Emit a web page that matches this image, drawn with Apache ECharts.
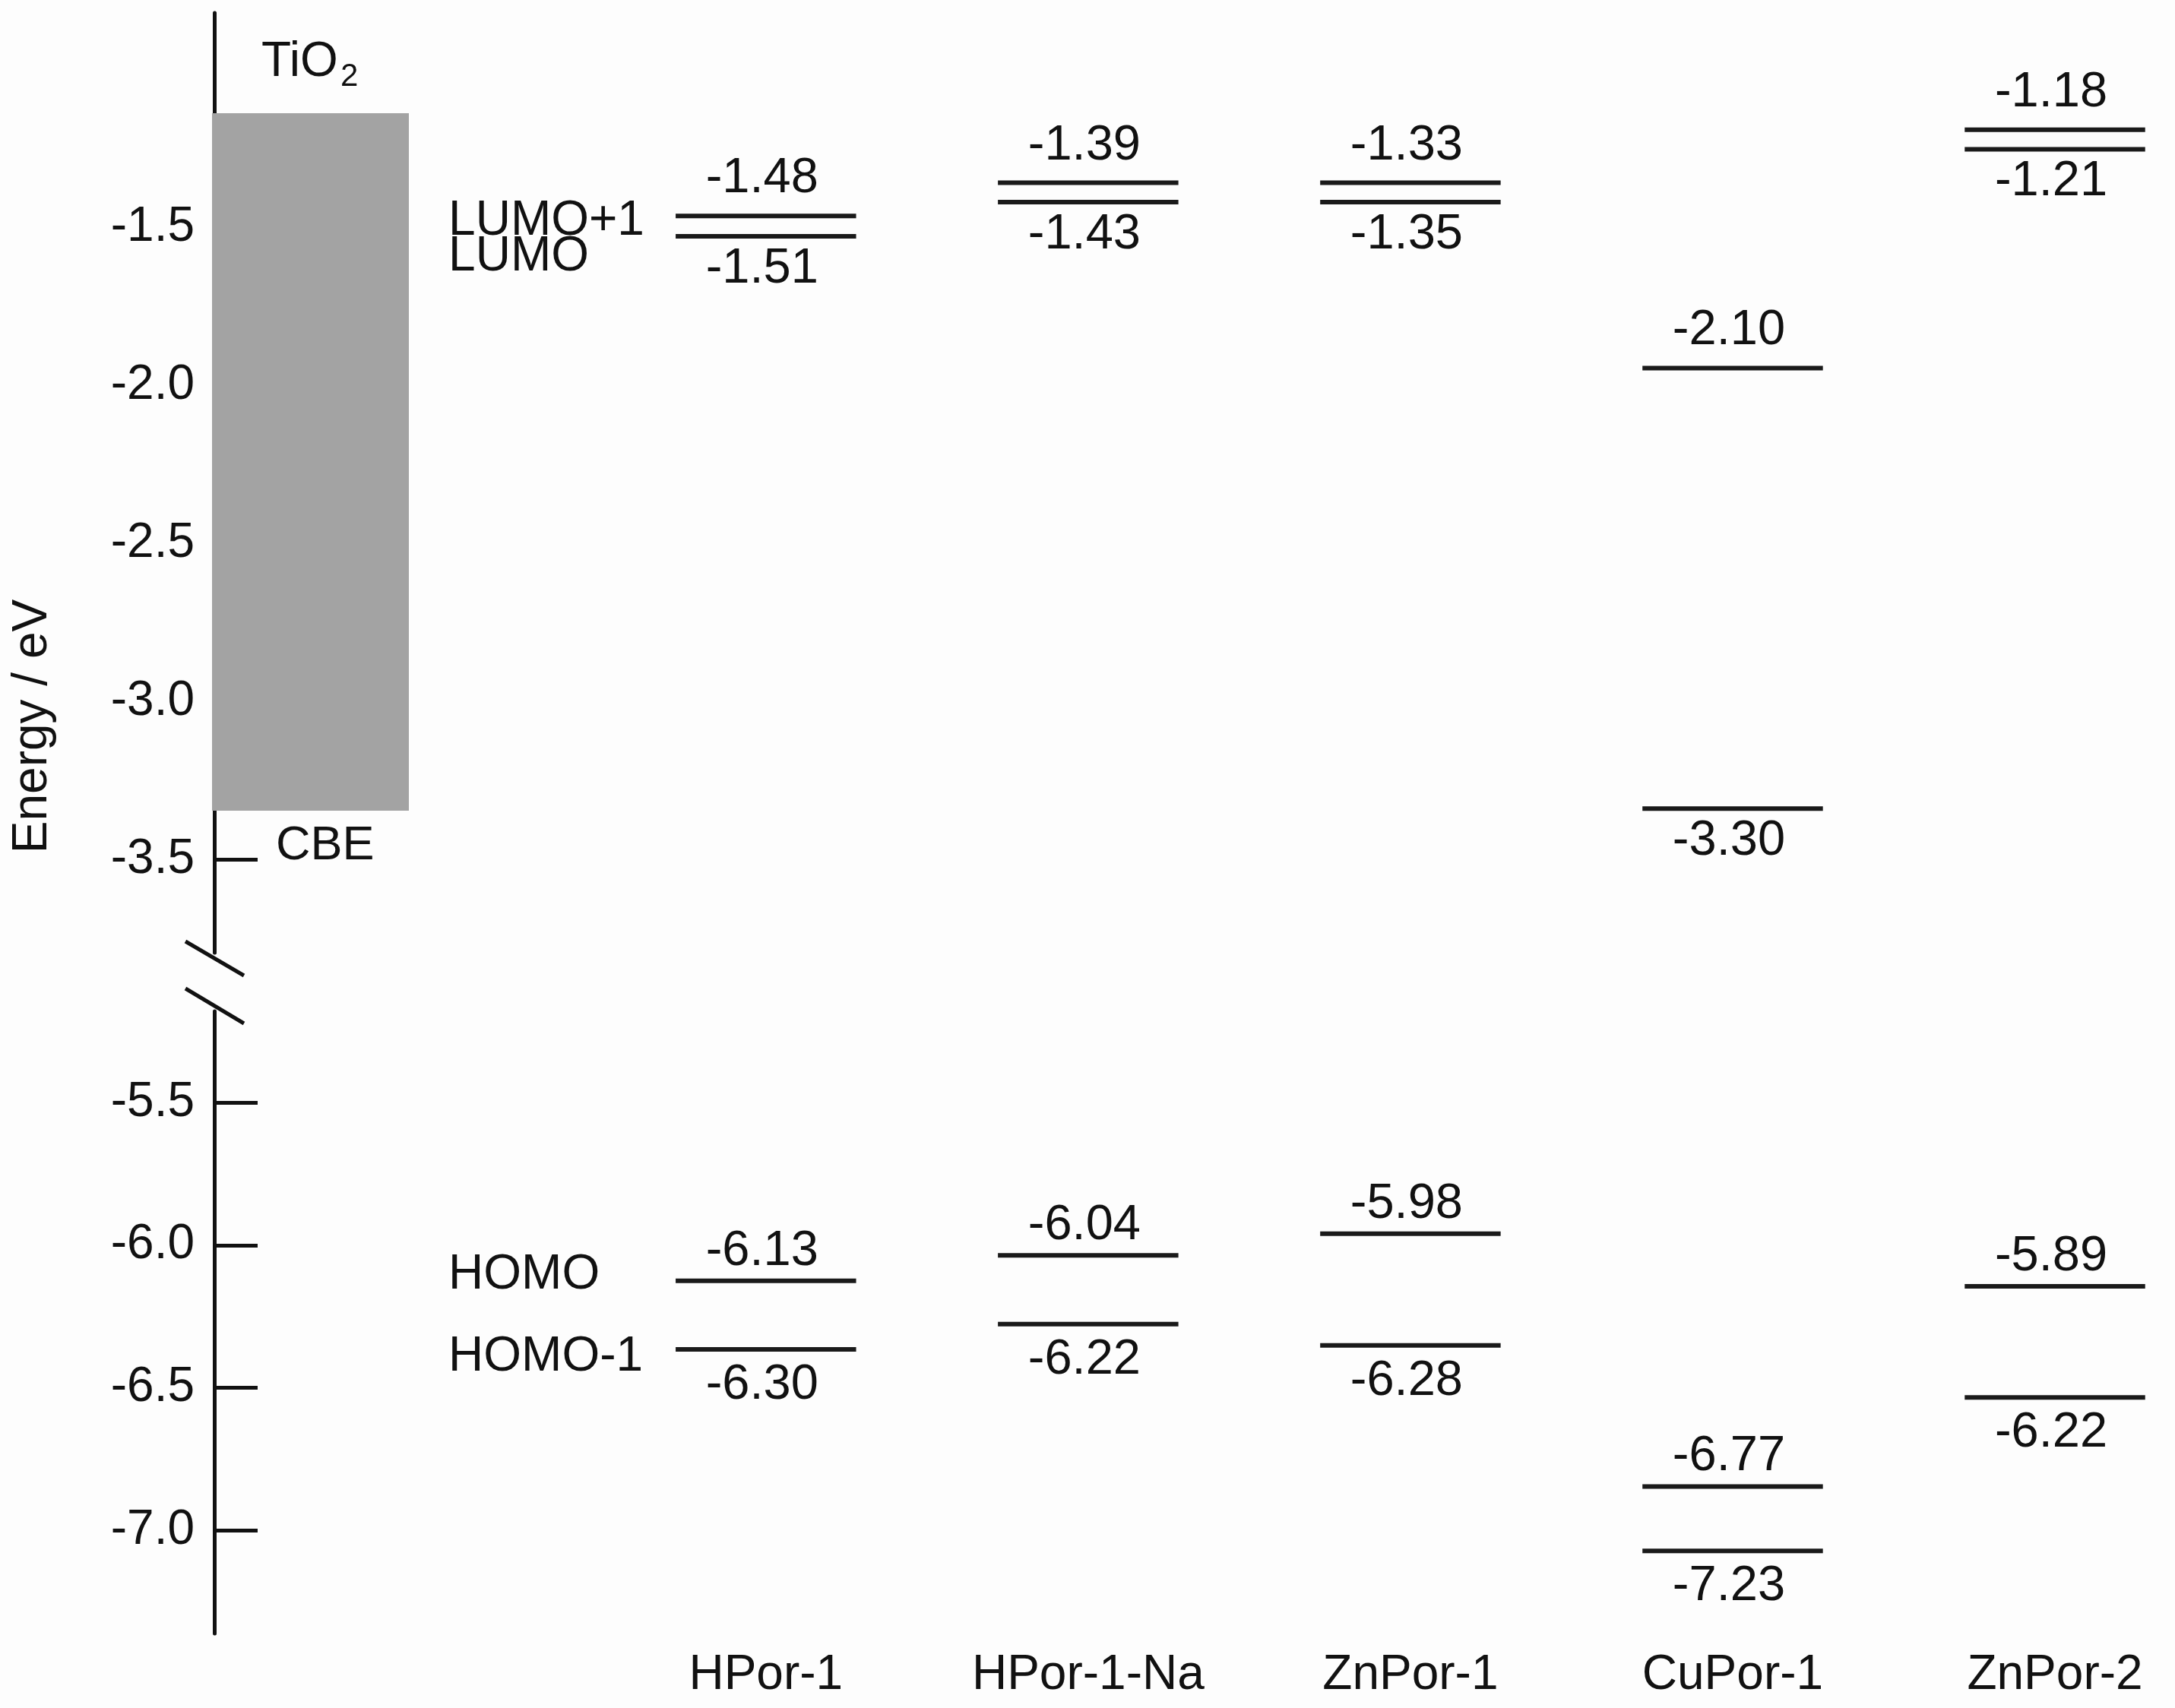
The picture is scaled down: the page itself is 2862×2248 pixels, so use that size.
<!DOCTYPE html>
<html>
<head>
<meta charset="utf-8">
<script src="https://cdn.jsdelivr.net/npm/echarts@6/dist/echarts.min.js"></script>
<style>
html,body{margin:0;padding:0;background:#fdfdfd;}
#chart{width:2862px;height:2248px;}
</style>
</head>
<body>
<div id="chart"></div>
<script>
// ---------- data ----------
const categories = ['HPor-1', 'HPor-1-Na', 'ZnPor-1', 'CuPor-1', 'ZnPor-2'];
const orbitalNames = ['LUMO+1', 'LUMO', 'HOMO', 'HOMO-1'];

// energies written on the diagram (eV)
const lumo1Label = [-1.48, -1.39, -1.33, -2.10, -1.18];
const lumoLabel  = [-1.51, -1.43, -1.35, -3.30, -1.21];
const homoLabel  = [-6.13, -6.04, -5.98, -6.77, -5.89];
const homo1Label = [-6.30, -6.22, -6.28, -7.23, -6.22];

// level heights as drawn in the schematic (eV)
const lumo1Drawn = [-1.465, -1.360, -1.360, -1.946, -1.192];
const lumoDrawn  = [-1.529, -1.421, -1.421, -3.338, -1.254];
const homoDrawn  = [-6.125, -6.036, -5.960, -6.846, -6.144];
const homo1Drawn = [-6.365, -6.277, -6.351, -7.072, -6.534];

// TiO2 conduction band block (top, bottom) in eV
const tio2Band = [-1.14, -3.345];

// axis ticks
const upperTicks = [-1.5, -2.0, -2.5, -3.0, -3.5];
const lowerTicks = [-5.5, -6.0, -6.5, -7.0];

// ---------- layout / style ----------
const FONT = '"Liberation Sans", Arial, Helvetica, sans-serif';
const INK = '#111111';
const AXIS_X = 282;
const GRID_LEFT = 1007.8;
const GRID_RIGHT = 158;
const UPPER_TOP = 17, UPPER_BOTTOM_Y = 1254;
const LOWER_TOP = 1331, LOWER_BOTTOM_Y = 2150;
const H = 2248;
const BOX_W = 259;
const TXT_DY = 5;

const chart = echarts.init(document.getElementById('chart'), null, {renderer: 'canvas'});

function levelRenderer(place, offAbove, offBelow, orbName, nameDy) {
  return function (params, api) {
    const i = api.value(0);
    const p = api.coord([i, api.value(1)]);
    const lab = api.value(2);
    const half = api.size([1, 0])[0] * 0.28;
    const ly = (place === 'above' ? p[1] - offAbove : p[1] + offBelow) + TXT_DY;
    const children = [
      {type: 'line', shape: {x1: p[0] - half, y1: p[1], x2: p[0] + half, y2: p[1]},
       style: {stroke: '#1a1a1a', lineWidth: 6}},
      {type: 'text', x: p[0] - 5, y: ly,
       style: {text: lab.toFixed(2), fontSize: 65, fontFamily: FONT, fill: INK,
               align: 'center', verticalAlign: 'middle'}}
    ];
    if (i === 0) {
      children.push({type: 'text', x: p[0] - half - 299, y: p[1] + nameDy + TXT_DY + 2,
        style: {text: orbName, fontSize: 64, fontFamily: FONT, fill: INK,
                align: 'left', verticalAlign: 'middle'}});
    }
    return {type: 'group', children: children};
  };
}

function levelData(drawn, label) {
  return categories.map((c, i) => [i, drawn[i], label[i]]);
}

const yAxisCommon = {
  type: 'value',
  position: 'left',
  offset: GRID_LEFT - AXIS_X,
  axisLine: {show: true, onZero: false, lineStyle: {color: INK, width: 5}},
  splitLine: {show: false},
};

const option = {
  backgroundColor: '#fdfdfd',
  animation: false,
  grid: [
    {left: GRID_LEFT, right: GRID_RIGHT, top: UPPER_TOP, bottom: H - UPPER_BOTTOM_Y, outerBoundsMode: 'none', containLabel: false},
    {left: GRID_LEFT, right: GRID_RIGHT, top: LOWER_TOP, bottom: H - LOWER_BOTTOM_Y, outerBoundsMode: 'none', containLabel: false}
  ],
  xAxis: [
    {gridIndex: 0, type: 'category', data: categories, boundaryGap: false, show: false},
    {gridIndex: 1, type: 'category', data: categories, boundaryGap: false, position: 'bottom',
     axisLine: {show: false, onZero: false}, axisTick: {show: false},
     axisLabel: {show: true, interval: 0, fontSize: 64, fontFamily: FONT, color: INK, margin: 23}}
  ],
  yAxis: [
    Object.assign({}, yAxisCommon, {
      gridIndex: 0, min: -3.794, max: -0.823,
      axisTick: {show: true, inside: true, length: 57, customValues: upperTicks, lineStyle: {color: INK, width: 5}},
      axisLabel: {show: true, customValues: upperTicks, formatter: v => Number(v).toFixed(1),
                  fontSize: 64, fontFamily: FONT, color: INK, margin: 26}
    }),
    Object.assign({}, yAxisCommon, {
      gridIndex: 1, min: -7.3615, max: -5.180,
      axisTick: {show: true, inside: true, length: 57, customValues: lowerTicks, lineStyle: {color: INK, width: 5}},
      axisLabel: {show: true, customValues: lowerTicks, formatter: v => Number(v).toFixed(1),
                  fontSize: 64, fontFamily: FONT, color: INK, margin: 26}
    })
  ],
  graphic: [
    {type: 'text', x: 43, y: 956, rotation: Math.PI / 2,
     style: {text: 'Energy / eV', fontSize: 64, fontFamily: FONT, fill: INK, align: 'center', verticalAlign: 'middle'}},
    {type: 'line', shape: {x1: AXIS_X - 38, y1: UPPER_BOTTOM_Y - 15, x2: AXIS_X + 39, y2: UPPER_BOTTOM_Y + 30},
     style: {stroke: INK, lineWidth: 5}},
    {type: 'line', shape: {x1: AXIS_X - 38, y1: LOWER_TOP - 30, x2: AXIS_X + 39, y2: LOWER_TOP + 16},
     style: {stroke: INK, lineWidth: 5}}
  ],
  series: [
    {
      name: 'TiO2', type: 'custom', xAxisIndex: 0, yAxisIndex: 0, z: 5,
      data: [[0, tio2Band[0], tio2Band[1]]],
      renderItem: function (params, api) {
        const yt = api.coord([0, api.value(1)])[1];
        const yb = api.coord([0, api.value(2)])[1];
        return {type: 'group', children: [
          {type: 'rect', shape: {x: AXIS_X - 3, y: yt, width: BOX_W, height: yb - yt},
           style: {fill: '#a3a3a3'}},
          {type: 'text', x: AXIS_X + 62, y: yt - 72 + TXT_DY,
           style: {text: 'TiO', fontSize: 64, fontFamily: FONT, fill: INK, align: 'left', verticalAlign: 'middle'}},
          {type: 'text', x: AXIS_X + 166, y: yt - 53 + TXT_DY,
           style: {text: '2', fontSize: 42, fontFamily: FONT, fill: INK, align: 'left', verticalAlign: 'middle'}},
          {type: 'text', x: AXIS_X + 81, y: yb + 42 + TXT_DY,
           style: {text: 'CBE', fontSize: 63, fontFamily: FONT, fill: INK, align: 'left', verticalAlign: 'middle'}}
        ]};
      }
    },
    {name: 'LUMO+1', type: 'custom', xAxisIndex: 0, yAxisIndex: 0, z: 6,
     data: levelData(lumo1Drawn, lumo1Label), renderItem: levelRenderer('above', 54, 38, orbitalNames[0], 0)},
    {name: 'LUMO', type: 'custom', xAxisIndex: 0, yAxisIndex: 0, z: 6,
     data: levelData(lumoDrawn, lumoLabel), renderItem: levelRenderer('below', 54, 38, orbitalNames[1], 20)},
    {name: 'HOMO', type: 'custom', xAxisIndex: 1, yAxisIndex: 1, z: 6,
     data: levelData(homoDrawn, homoLabel), renderItem: levelRenderer('above', 44, 42, orbitalNames[2], -14)},
    {name: 'HOMO-1', type: 'custom', xAxisIndex: 1, yAxisIndex: 1, z: 6,
     data: levelData(homo1Drawn, homo1Label), renderItem: levelRenderer('below', 44, 42, orbitalNames[3], 3)}
  ]
};

chart.setOption(option);
</script>
</body>
</html>
